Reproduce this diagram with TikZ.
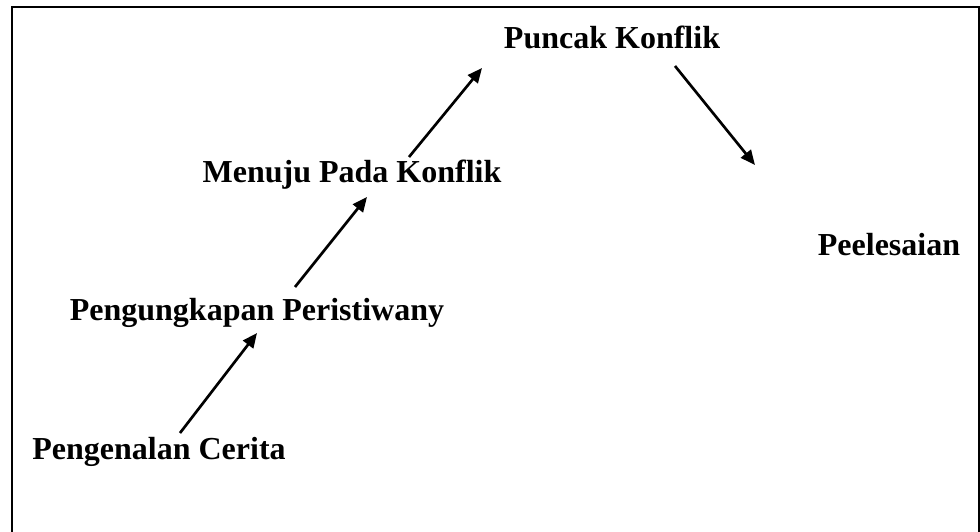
\documentclass[tikz,border=0pt]{standalone}
\usepackage{fontspec}
\setmainfont{Liberation Serif}
\usetikzlibrary{arrows.meta}
\tikzset{/alur/tahap/.style={
	shape=rectangle, inner sep=0pt, font=\fontsize{24}{28}\selectfont\bfseries
}}
\tikzset{/alur/panah/.style={
	line width=2pt, -{Triangle[length=11pt, width=9.5pt]}
}}

\begin{document}
\begin{tikzpicture}[x=0.75pt, y=-0.75pt]
			\useasboundingbox (0,0) rectangle (980,531);
			\draw[line width=1.5pt] (12,540) -- (12,7) -- (979,7) -- (979,540);
			\path node[/alur/tahap] (puncak) at (612,37) {Puncak Konflik};
			\path node[/alur/tahap] (menuju) at (352,175) {Menuju Pada Konflik};
			\path node[/alur/tahap] (ungkap) at (257,313) {Pengungkapan Peristiwany};
			\path node[/alur/tahap] (kenal) at (159,452) {Pengenalan Cerita};
			\path node[/alur/tahap] (selesai) at (889,245) {Peelesaian};
			\coordinate (a1) at (180,433);
			\coordinate (b1) at (257,333);
			\coordinate (a2) at (295,287);
			\coordinate (b2) at (367,197);
			\coordinate (a3) at (409,157);
			\coordinate (b3) at (482,68);
			\coordinate (a4) at (675,66);
			\coordinate (b4) at (755,165);
			\draw[/alur/panah] (a1) -- (b1);
			\draw[/alur/panah] (a2) -- (b2);
			\draw[/alur/panah] (a3) -- (b3);
			\draw[/alur/panah] (a4) -- (b4);
		\end{tikzpicture}
\end{document}
